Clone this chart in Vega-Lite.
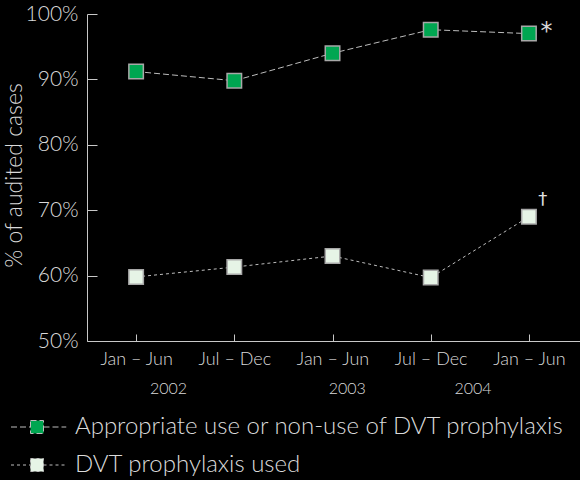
{
  "$schema": "https://vega.github.io/schema/vega-lite/v6.json",
  "width": 493,
  "height": 327,
  "autosize": {"type": "none"},
  "padding": {"left": 87, "top": 14, "right": 0, "bottom": 139},
  "background": "black",
  "config": {
    "font": "Lato",
    "view": {"stroke": null},
    "axis": {
      "grid": false,
      "domainColor": "#c8c8c8",
      "tickColor": "#c8c8c8",
      "labelColor": "#dadada",
      "titleColor": "#dadada",
      "labelFont": "Lato",
      "titleFont": "Lato",
      "labelFontWeight": 300,
      "titleFontWeight": 300
    },
    "legend": {
      "labelColor": "#dadada",
      "labelFont": "Lato",
      "labelFontWeight": 300
    }
  },
  "datasets": {
    "series": [
      {"series": "Appropriate use or non-use of DVT prophylaxis", "idx": 0, "period": "Jan – Jun 2002", "value": 91.2},
      {"series": "Appropriate use or non-use of DVT prophylaxis", "idx": 1, "period": "Jul – Dec 2002", "value": 89.8},
      {"series": "Appropriate use or non-use of DVT prophylaxis", "idx": 2, "period": "Jan – Jun 2003", "value": 94.0},
      {"series": "Appropriate use or non-use of DVT prophylaxis", "idx": 3, "period": "Jul – Dec 2003", "value": 97.6},
      {"series": "Appropriate use or non-use of DVT prophylaxis", "idx": 4, "period": "Jan – Jun 2004", "value": 97.0},
      {"series": "DVT prophylaxis used", "idx": 0, "period": "Jan – Jun 2002", "value": 59.8},
      {"series": "DVT prophylaxis used", "idx": 1, "period": "Jul – Dec 2002", "value": 61.3},
      {"series": "DVT prophylaxis used", "idx": 2, "period": "Jan – Jun 2003", "value": 63.0},
      {"series": "DVT prophylaxis used", "idx": 3, "period": "Jul – Dec 2003", "value": 59.7},
      {"series": "DVT prophylaxis used", "idx": 4, "period": "Jan – Jun 2004", "value": 69.0}
    ],
    "years": [
      {"year": "2002", "pos": 0.33},
      {"year": "2003", "pos": 2.15},
      {"year": "2004", "pos": 3.43}
    ],
    "notes": [
      {"note": "*", "pos": 4.18, "pct": 97.3},
      {"note": "†", "pos": 4.14, "pct": 71.6}
    ]
  },
  "layer": [
    {
      "data": {"name": "series"},
      "mark": {"type": "line", "color": "#bdbdbd", "strokeWidth": 1},
      "encoding": {
        "x": {
          "field": "idx",
          "type": "quantitative",
          "scale": {"domain": [-0.5, 4.52], "nice": false, "zero": false},
          "axis": {
            "title": null,
            "values": [0, 1, 2, 3, 4],
            "labelExpr": "['Jan – Jun','Jul – Dec','Jan – Jun','Jul – Dec','Jan – Jun'][datum.value]",
            "labelFontSize": 18,
            "tickSize": -7,
            "labelPadding": 25,
            "labelBaseline": "middle"
          }
        },
        "y": {
          "field": "value",
          "type": "quantitative",
          "scale": {"domain": [50, 100], "nice": false, "zero": false},
          "axis": {
            "title": "% of audited cases",
            "values": [50, 60, 70, 80, 90, 100],
            "labelExpr": "datum.value + '%'",
            "labelFontSize": 21,
            "titleFontSize": 23,
            "tickSize": -10,
            "labelPadding": 19,
            "titleX": -73,
            "titleY": 161,
            "titleAngle": -90,
            "titleBaseline": "middle",
            "titleAlign": "center"
          }
        },
        "strokeDash": {
          "field": "series",
          "type": "nominal",
          "scale": {
            "domain": ["Appropriate use or non-use of DVT prophylaxis", "DVT prophylaxis used"],
            "range": [[6, 3], [3, 3]]
          },
          "legend": {
            "title": null,
            "orient": "none",
            "direction": "vertical",
            "legendX": -62,
            "legendY": 401,
            "padding": 0,
            "symbolType": "M-4,0H-1M-1,-1H1V1H-1ZM1,0H4.5",
            "symbolSize": 169,
            "symbolStrokeColor": "#bdbdbd",
            "symbolStrokeWidth": 1,
            "labelFontSize": 24,
            "labelOffset": 26,
            "rowPadding": 14,
            "labelLimit": 600
          }
        }
      }
    },
    {
      "data": {"name": "series"},
      "mark": {"type": "point", "shape": "square", "size": 210, "filled": true, "stroke": "#a8a8a8", "strokeWidth": 1.5, "opacity": 1},
      "encoding": {
        "x": {"field": "idx", "type": "quantitative"},
        "y": {"field": "value", "type": "quantitative"},
        "fill": {
          "field": "series",
          "type": "nominal",
          "scale": {
            "domain": ["Appropriate use or non-use of DVT prophylaxis", "DVT prophylaxis used"],
            "range": ["#00a651", "#e6f4e6"]
          },
          "legend": {
            "title": null,
            "orient": "none",
            "direction": "vertical",
            "legendX": -62,
            "legendY": 401,
            "padding": 0,
            "symbolType": "M-4,0H-1M-1,-1H1V1H-1ZM1,0H4.5",
            "symbolSize": 169,
            "symbolStrokeColor": "#bdbdbd",
            "symbolStrokeWidth": 1,
            "labelFontSize": 24,
            "labelOffset": 26,
            "rowPadding": 14,
            "labelLimit": 600
          }
        }
      }
    },
    {
      "data": {"name": "years"},
      "mark": {"type": "text", "color": "#dadada", "fontSize": 16, "fontWeight": 300, "dy": 48, "baseline": "middle", "align": "center"},
      "encoding": {
        "x": {"field": "pos", "type": "quantitative"},
        "y": {"datum": 50, "type": "quantitative"},
        "text": {"field": "year"}
      }
    },
    {
      "data": {"name": "notes"},
      "transform": [{"filter": "datum.note === '*'"}],
      "mark": {"type": "text", "color": "#dadada", "fontSize": 24, "font": "DejaVu Sans", "baseline": "middle", "align": "center"},
      "encoding": {
        "x": {"field": "pos", "type": "quantitative"},
        "y": {"field": "pct", "type": "quantitative"},
        "text": {"field": "note"}
      }
    },
    {
      "data": {"name": "notes"},
      "transform": [{"filter": "datum.note !== '*'"}],
      "mark": {"type": "text", "color": "#e0e0e0", "fontSize": 18, "font": "DejaVu Sans", "baseline": "middle", "align": "center"},
      "encoding": {
        "x": {"field": "pos", "type": "quantitative"},
        "y": {"field": "pct", "type": "quantitative"},
        "text": {"field": "note"}
      }
    }
  ]
}
